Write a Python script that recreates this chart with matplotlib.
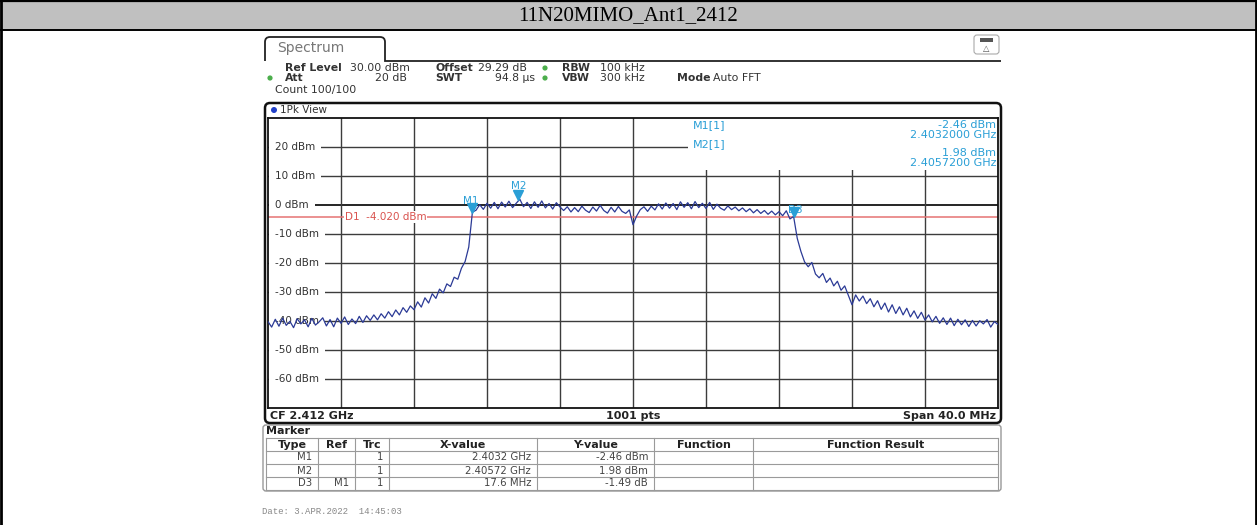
import numpy as np
import matplotlib
matplotlib.use("Agg")
import matplotlib.pyplot as plt
from matplotlib.patches import Rectangle, FancyBboxPatch, Circle, PathPatch
from matplotlib.path import Path
import matplotlib.transforms as mtransforms

# ---------------- data ----------------
title = "11N20MIMO_Ant1_2412"
start_ghz = 2.392
stop_ghz = 2.432
center_label = "CF 2.412 GHz"
points_label = "1001 pts"
span_label = "Span 40.0 MHz"

trace_dbm = [
    -40.2, -42.1, -39.4, -41.8, -39.0, -41.5, -40.1, -42.3, -39.2, -41.0,
    -39.6, -42.0, -39.1, -41.4, -40.3, -38.9, -41.7, -39.5, -42.0, -39.0,
    -40.8, -38.6, -41.2, -39.3, -40.9, -38.4, -40.5, -38.2, -39.8, -37.9,
    -39.6, -37.5, -39.0, -36.8, -38.5, -36.2, -37.9, -35.4, -37.0, -34.8,
    -36.1, -33.4, -35.2, -32.0, -33.8, -30.6, -32.2, -29.0, -30.3, -27.2,
    -28.1, -24.9, -25.6, -21.8, -19.5, -14.5, -2.46, -1.8, 0.1, -1.5,
    0.6, -1.1, 0.9, -1.3, 1.0, -0.7, 1.3, -0.9, 0.6, 1.98,
    -0.6, 0.9, -1.2, 1.1, -0.8, 1.4, -1.0, 0.5, -1.4, 0.8,
    -0.7, -1.9, -0.6, -2.4, -0.9, -2.3, -0.4, -1.8, -2.6, -0.7,
    -2.1, -0.1, -1.9, -2.8, -0.8, -2.4, -0.5, -2.2, -2.9, -1.7,
    -6.8, -3.8, -1.6, -0.6, -2.2, -0.4, -1.7, 0.4, -1.4, 0.7,
    -1.1, 0.5, -1.6, 1.1, -0.8, 0.8, -1.3, 1.2, -0.9, 0.6,
    -1.2, 0.9, -1.5, 0.3, -1.1, -1.8, -0.3, -1.6, -0.7, -2.0,
    -1.0, -2.3, -1.3, -2.7, -1.6, -2.9, -1.9, -3.2, -2.1, -3.4,
    -2.3, -3.7, -2.0, -4.8, -3.95, -11.5, -16.0, -19.6, -21.3, -19.8,
    -23.8, -25.1, -23.6, -26.7, -25.2, -27.9, -26.3, -29.4, -27.9, -31.2,
    -34.4, -31.0, -33.1, -31.4, -34.0, -32.3, -35.1, -33.0, -36.0, -33.8,
    -36.9, -34.4, -37.4, -35.1, -37.9, -35.6, -38.6, -36.5, -39.1, -37.0,
    -39.7, -37.9, -40.3, -38.4, -40.8, -38.9, -41.2, -39.0, -41.6, -39.4,
    -41.3, -39.6, -41.9, -39.8, -41.7, -39.9, -41.0, -39.5, -42.1, -40.2,
    -41.2,
]
freq_ghz = np.linspace(start_ghz, stop_ghz, len(trace_dbm))

ref_level_dbm = 30
bottom_level_dbm = -70
y_grid_dbm = [20, 10, 0, -10, -20, -30, -40, -50, -60]
x_grid_ghz = [2.396, 2.400, 2.404, 2.408, 2.412, 2.416, 2.420, 2.424, 2.428]

d1_level = -4.02
d1_label = "D1  -4.020 dBm"

marker_names = ["M1", "M2", "D3"]
marker_freqs = [2.4032, 2.40572, 2.4208]
marker_levels = [-2.46, 1.98, -3.95]

table_header = ["Type", "Ref", "Trc", "X-value", "Y-value", "Function", "Function Result"]
table_rows = [
    ["M1", "", "1", "2.4032 GHz", "-2.46 dBm", "", ""],
    ["M2", "", "1", "2.40572 GHz", "1.98 dBm", "", ""],
    ["D3", "M1", "1", "17.6 MHz", "-1.49 dB", "", ""],
]
date_text = "Date: 3.APR.2022  14:45:03"

# ---------------- layout / style ----------------
W, H = 1257, 525
TRACE_C = "#2b3a96"
MARK_C = "#2a9fd6"
D1_C = "#e57373"
GRID_C = "#3c3c3c"
TXT_C = "#333333"

fig = plt.figure(figsize=(W / 100, H / 100), dpi=100)
bg = fig.add_axes([0, 0, 1, 1])
bg.set_xlim(0, W)
bg.set_ylim(H, 0)
bg.axis("off")

# title band
bg.add_patch(Rectangle((0, 0), W, 30, fc="#c0c0c0", ec="none", zorder=0))
bg.plot([0, W], [0.8, 0.8], color="black", lw=1.6)
bg.plot([0, W], [30, 30], color="black", lw=1.4)
bg.plot([1.2, 1.2], [0, H], color="black", lw=2)
bg.plot([W - 1.5, W - 1.5], [0, H], color="black", lw=2)
bg.text(628, 16, title, ha="center", va="center", fontsize=15,
        family="Liberation Serif", color="black")

# spectrum tab
verts = [(265, 61), (265, 42), (265, 37), (270, 37), (380, 37), (385, 37),
         (385, 42), (385, 61), (1001, 61)]
codes = [Path.MOVETO, Path.LINETO, Path.CURVE3, Path.CURVE3, Path.LINETO,
         Path.CURVE3, Path.CURVE3, Path.LINETO, Path.LINETO]
bg.add_patch(PathPatch(Path(verts, codes), fc="none", ec="#222222", lw=1.3))
bg.text(277, 48, "Spectrum", fontsize=10, color="#777777", va="center")

# icon top right
bg.add_patch(FancyBboxPatch((974, 35), 25, 19, boxstyle="round,pad=0,rounding_size=3",
                            fc="white", ec="#aaaaaa", lw=0.8))
bg.add_patch(Rectangle((980, 38), 13, 4, fc="#555555", ec="none"))
bg.text(986.5, 48.5, "\u25b3", fontsize=6, ha="center", va="center", color="#555555")

# header info
fs_h = 7.8
def put(x, y, s, bold=False, ha="left", color=TXT_C):
    bg.text(x, y, s, fontsize=fs_h, fontweight="bold" if bold else "normal",
            ha=ha, va="center", color=color)

put(285, 68, "Ref Level", True)
put(350, 68, "30.00 dBm")
put(435, 68, "Offset", True)
put(478, 68, "29.29 dB")
put(562, 68, "RBW", True)
put(600, 68, "100 kHz")
put(285, 78, "Att", True)
put(407, 78, "20 dB", ha="right")
put(435, 78, "SWT", True)
put(535, 78, "94.8 \u00b5s", ha="right")
put(562, 78, "VBW", True)
put(600, 78, "300 kHz")
put(677, 78, "Mode", True)
put(713, 78, "Auto FFT")
put(275, 90, "Count 100/100")
for (cx, cy) in [(270, 78), (545, 68), (545, 78)]:
    bg.add_patch(Circle((cx, cy), 2.6, fc="#4cae4c", ec="none"))

# view box
bg.add_patch(FancyBboxPatch((265, 103), 736, 320, boxstyle="round,pad=0,rounding_size=5",
                            fc="none", ec="#111111", lw=1.8, zorder=5))
bg.add_patch(Circle((274, 110), 3, fc="#2140c8", ec="none"))
bg.text(280, 110, "1Pk View", fontsize=7.5, color=TXT_C, va="center")
bg.text(270, 416, center_label, fontsize=8, fontweight="bold", color="#222222", va="center")
bg.text(633, 416, points_label, fontsize=8, fontweight="bold", color="#222222",
        va="center", ha="center")
bg.text(996, 416, span_label, fontsize=8, fontweight="bold", color="#222222",
        va="center", ha="right")

# ---------------- spectrum axes ----------------
ax = fig.add_axes([268 / W, 1 - 408 / H, 730 / W, 290 / H])
ax.set_xlim(start_ghz, stop_ghz)
ax.set_ylim(bottom_level_dbm, ref_level_dbm)
ax.set_xticks([])
ax.set_yticks([])
for sp in ax.spines.values():
    sp.set_color("#111111")
    sp.set_linewidth(1.3)

for v in y_grid_dbm:
    ax.axhline(v, color="black" if v == 0 else GRID_C, lw=1.0 if v else 1.2, zorder=1)
for f in x_grid_ghz:
    ax.axvline(f, color=GRID_C, lw=1.0, zorder=1)

# white area behind marker info
ax.add_patch(Rectangle((0.575, 0.821), 0.43, 0.2, transform=ax.transAxes,
                       fc="white", ec="none", zorder=1.5))

ytr = ax.get_yaxis_transform()
for v in y_grid_dbm:
    ax.text(0.0095, v, f"{v} dBm", transform=ytr, fontsize=7.5, color=TXT_C,
            ha="left", va="center", zorder=1.8,
            bbox=dict(fc="white", ec="none", boxstyle="square,pad=0.6"))

ax.axhline(d1_level, color=D1_C, lw=1.1, zorder=2)
ax.text(0.105, d1_level, d1_label, transform=ytr, fontsize=7.5, color="#d9534f",
        ha="left", va="center", zorder=2.2,
        bbox=dict(fc="white", ec="none", boxstyle="square,pad=0.1"))

ax.plot(freq_ghz, trace_dbm, color=TRACE_C, lw=0.9, zorder=3)

tri = mtransforms.offset_copy(ax.transData, fig=fig, y=3.3, units="points")
ax.plot(marker_freqs, marker_levels, ls="none", marker="v", ms=6.5,
        color=MARK_C, transform=tri, zorder=4)
label_offsets = [(-1, 8), (0, 9.4), (1, 4.7)]
for name, f, lv, off in zip(marker_names, marker_freqs, marker_levels, label_offsets):
    ax.annotate(name, (f, lv), xytext=off, textcoords="offset points", ha="center",
                va="center", fontsize=7.5, color=MARK_C, zorder=4)

# marker info block (pixel coords)
info_fs = 8
bg.text(693, 125, "M1[1]", fontsize=info_fs, color=MARK_C, va="center", zorder=6)
bg.text(996, 125, f"{marker_levels[0]:.2f} dBm", fontsize=info_fs, color=MARK_C,
        va="center", ha="right", zorder=6)
bg.text(996, 135, f"{marker_freqs[0]:.7f} GHz", fontsize=info_fs, color=MARK_C,
        va="center", ha="right", zorder=6)
bg.text(693, 144, "M2[1]", fontsize=info_fs, color=MARK_C, va="center", zorder=6)
bg.text(996, 153, f"{marker_levels[1]:.2f} dBm", fontsize=info_fs, color=MARK_C,
        va="center", ha="right", zorder=6)
bg.text(996, 163, f"{marker_freqs[1]:.7f} GHz", fontsize=info_fs, color=MARK_C,
        va="center", ha="right", zorder=6)
bg.set_zorder(2)
bg.patch.set_alpha(0)
ax.set_zorder(1)

# ---------------- marker table ----------------
bg.add_patch(FancyBboxPatch((263, 425), 738, 66, boxstyle="round,pad=0,rounding_size=3",
                            fc="none", ec="#999999", lw=1.0))
bg.text(266, 431, "Marker", fontsize=8, fontweight="bold", color="#222222", va="center")
cols = [266, 318, 355, 389, 537, 654, 753, 998]
row_lines = [438, 451, 464, 477, 490]
for yl in row_lines:
    bg.plot([cols[0], cols[-1]], [yl, yl], color="#9a9a9a", lw=0.8)
for xc in cols:
    bg.plot([xc, xc], [row_lines[0], row_lines[-1]], color="#9a9a9a", lw=0.8)
for j, h in enumerate(table_header):
    bg.text((cols[j] + cols[j + 1]) / 2, 444.5, h, fontsize=8, fontweight="bold",
            color="#222222", ha="center", va="center")
for r, row in enumerate(table_rows):
    yc = 457.5 + 13 * r
    for j, s in enumerate(row):
        if s:
            bg.text(cols[j + 1] - 6, yc, s, fontsize=7.3, color="#444444",
                    ha="right", va="center")

bg.text(262, 511, date_text, fontsize=6.5, family="Liberation Mono", color="#888888",
        va="center")

fig.savefig("out.png", dpi=100)
